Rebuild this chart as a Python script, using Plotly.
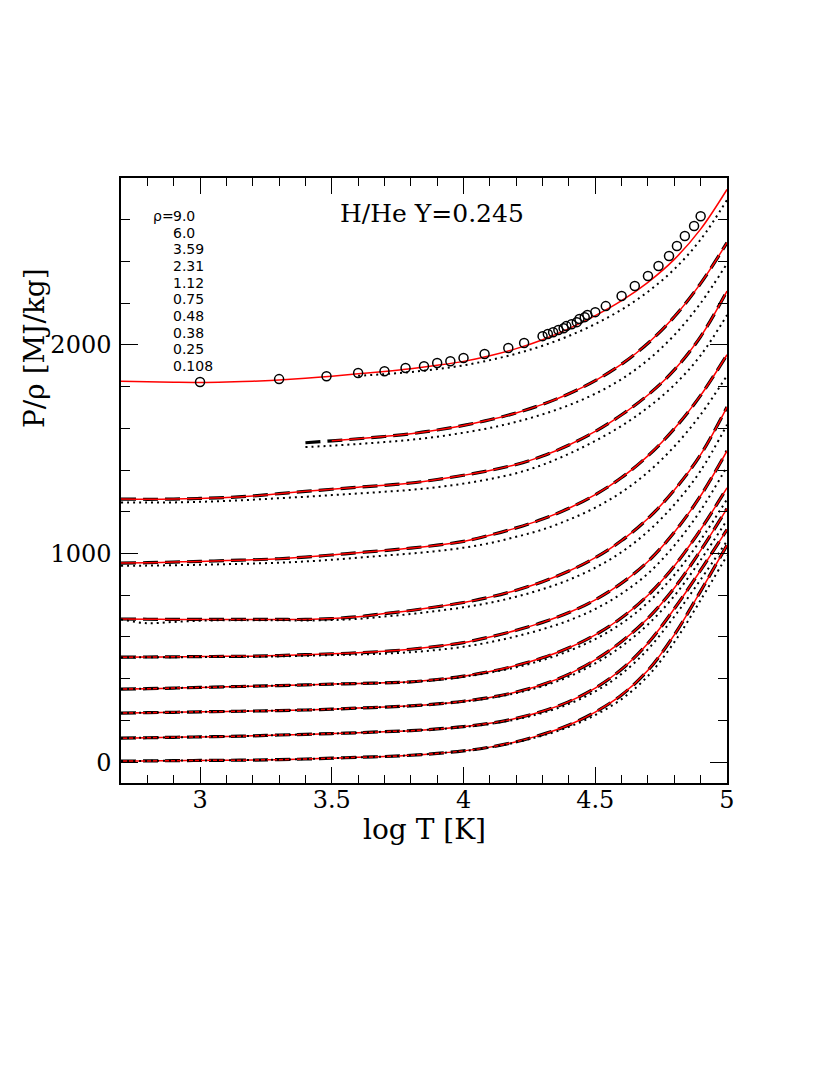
import plotly.graph_objects as go

# ---------------- data ----------------
logT = [2.7, 2.8, 2.9, 3.0, 3.1, 3.2, 3.3, 3.4, 3.5, 3.6, 3.7, 3.8,
        3.9, 4.0, 4.1, 4.2, 4.3, 4.4, 4.5, 4.6, 4.7, 4.8, 4.9, 5.0]

rho_labels = ["9.0", "6.0", "3.59", "2.31", "1.12", "0.75", "0.48", "0.38", "0.25", "0.108"]

# solid red model (rho = 9.0)
red_9 = [1826, 1823, 1821, 1820, 1822, 1826, 1832, 1840, 1850, 1862, 1873, 1886,
         1902, 1921, 1948, 1982, 2025, 2078, 2140, 2212, 2300, 2410, 2555, 2745]
dot_9 = [None, None, None, None, None, None, None, None, None, 1852, 1860, 1870,
         1884, 1902, 1927, 1958, 1996, 2043, 2100, 2169, 2255, 2363, 2505, 2695]

dash_6 = [None, None, None, None, None, None, None, 1531, 1540, 1550, 1561, 1574,
          1592, 1614, 1641, 1674, 1715, 1766, 1829, 1908, 2008, 2135, 2295, 2490]
red_6 = [None, None, None, None, None, None, None, None, 1540, 1550, 1561, 1574,
         1592, 1614, 1641, 1674, 1715, 1766, 1829, 1908, 2008, 2135, 2295, 2490]
dot_6 = [None, None, None, None, None, None, None, 1510, 1517, 1525, 1534, 1545,
         1560, 1579, 1602, 1631, 1667, 1711, 1766, 1836, 1928, 2047, 2200, 2390]

dash_359 = [1261, 1260, 1261, 1264, 1268, 1276, 1287, 1298, 1308, 1318, 1327, 1338,
            1355, 1375, 1398, 1427, 1467, 1520, 1585, 1665, 1760, 1880, 2040, 2258]
dot_359 = [1245, 1244, 1245, 1248, 1252, 1258, 1265, 1272, 1280, 1288, 1296, 1305,
           1318, 1335, 1357, 1385, 1425, 1478, 1540, 1612, 1700, 1808, 1950, 2143]

dash_231 = [954, 956, 959, 962, 966, 970, 975, 983, 993, 1004, 1014, 1026,
            1040, 1058, 1088, 1123, 1165, 1217, 1282, 1364, 1468, 1598, 1758, 1953]
dot_231 = [941, 942, 944, 946, 949, 952, 956, 962, 970, 980, 990, 1000,
           1012, 1028, 1050, 1080, 1115, 1162, 1220, 1294, 1390, 1513, 1666, 1853]

dash_112 = [686, 685, 684, 684, 684, 684, 684, 684, 688, 697, 712, 727,
            745, 765, 791, 824, 865, 916, 980, 1062, 1168, 1304, 1474, 1702]
dot_112 = [684, 666, 672, 678, 680, 680, 680, 679, 681, 687, 698, 710,
           725, 742, 764, 793, 829, 874, 932, 1007, 1106, 1234, 1397, 1617]

dash_075 = [503, 504, 505, 506, 507, 508, 511, 515, 519, 524, 531, 541,
            555, 573, 600, 632, 670, 717, 778, 858, 962, 1102, 1277, 1492]
dot_075 = [502, 503, 503, 504, 504, 505, 507, 510, 513, 516, 520, 527,
           538, 553, 575, 603, 637, 679, 734, 808, 904, 1038, 1207, 1417]

dash_048 = [350, 352, 355, 358, 361, 364, 367, 370, 374, 377, 380, 385,
            396, 412, 434, 463, 500, 548, 610, 692, 800, 940, 1115, 1315]
dot_048 = [350, 352, 355, 358, 361, 364, 367, 370, 374, 377, 380, 384,
           394, 409, 429, 455, 489, 533, 590, 665, 765, 897, 1065, 1260]

dash_038 = [235, 237, 239, 241, 243, 245, 247, 250, 254, 259, 264, 270,
            279, 292, 310, 336, 372, 422, 490, 578, 690, 835, 1015, 1215]
dot_038 = [235, 237, 239, 241, 243, 245, 247, 250, 254, 259, 264, 269,
           278, 290, 307, 331, 364, 410, 473, 555, 660, 797, 969, 1160]

dash_025 = [115, 117, 119, 121, 123, 126, 130, 133, 137, 141, 146, 151,
            159, 170, 186, 210, 244, 290, 355, 445, 570, 735, 920, 1115]
dot_025 = [115, 117, 119, 121, 123, 126, 130, 133, 137, 141, 146, 151,
           158, 168, 183, 205, 236, 279, 339, 423, 541, 698, 875, 1060]

dash_0108 = [5, 6, 7, 8, 9, 10, 12, 15, 19, 23, 27, 33,
             42, 54, 72, 98, 133, 178, 240, 322, 440, 610, 820, 1040]
dot_0108 = [5, 6, 7, 8, 9, 10, 12, 15, 19, 23, 27, 33,
            42, 53, 70, 95, 127, 169, 226, 302, 413, 575, 777, 990]

# open circles (rho = 9.0 reference points)
circ_T = [3.0, 3.3, 3.48, 3.6, 3.7, 3.78, 3.85, 3.9, 3.95, 4.0, 4.08, 4.17, 4.23,
          4.30, 4.32, 4.34, 4.36, 4.38, 4.39, 4.41, 4.43, 4.44, 4.46, 4.47,
          4.50, 4.54, 4.60, 4.65, 4.70, 4.74, 4.78, 4.81, 4.84, 4.875, 4.90]
circ_P = [1822, 1836, 1850, 1865, 1874, 1889, 1898, 1913, 1922, 1937, 1956, 1985, 2009,
          2042, 2052, 2061, 2071, 2080, 2090, 2099, 2109, 2124, 2133, 2143,
          2157, 2186, 2234, 2282, 2330, 2378, 2426, 2474, 2522, 2570, 2617]

x_tickvals = [3, 3.5, 4, 4.5, 5]
x_ticktext = ["3", "3.5", "4", "4.5", "5"]
y_tickvals = [0, 1000, 2000]
y_ticktext = ["0", "1000", "2000"]

title_text = "H/He Y=0.245"
x_title = "log T [K]"
y_title = "P/ρ [MJ/kg]"

# ---------------- figure ----------------
dashed_sets = [dash_6, dash_359, dash_231, dash_112, dash_075, dash_048, dash_038, dash_025, dash_0108]
red_sets = [red_9, red_6, dash_359, dash_231, dash_112, dash_075, dash_048, dash_038, dash_025, dash_0108]
dot_sets = [dot_9, dot_6, dot_359, dot_231, dot_112, dot_075, dot_048, dot_038, dot_025, dot_0108]

fig = go.Figure()

for ys in dashed_sets:
    fig.add_trace(go.Scatter(x=logT, y=ys, mode="lines", showlegend=False,
                             line=dict(color="black", width=3.2, dash="15px,7px", shape="spline", smoothing=1.0),
                             connectgaps=False, hoverinfo="skip"))
for ys in red_sets:
    fig.add_trace(go.Scatter(x=logT, y=ys, mode="lines", showlegend=False,
                             line=dict(color="#ff0000", width=1.5, shape="spline", smoothing=1.0),
                             connectgaps=False, hoverinfo="skip"))
for ys in dot_sets:
    fig.add_trace(go.Scatter(x=logT, y=ys, mode="lines", showlegend=False,
                             line=dict(color="black", width=2, dash="2px,4px", shape="spline", smoothing=1.0),
                             connectgaps=False, hoverinfo="skip"))

fig.add_trace(go.Scatter(x=circ_T, y=circ_P, mode="markers", showlegend=False,
                         marker=dict(symbol="circle-open", size=9, color="black",
                                     line=dict(width=1.5, color="black")),
                         hoverinfo="skip"))

# target plot-area box in window pixels
L, R, T, B = 121, 727, 178, 783
BODY = 8  # default page margin of the html body
W, H = 830 - 2 * BODY, 1075 - 2 * BODY


def px(xp):
    return (xp - L) / (R - L)


def py(yp):
    return (B - yp) / (B - T)


serif = "DejaVu Serif"
sans = "DejaVu Sans"

annotations = []
annotations.append(dict(text=title_text, x=px(432), y=py(213), xref="paper", yref="paper",
                        showarrow=False, xanchor="center", yanchor="middle",
                        font=dict(family=serif, size=25, color="black")))
annotations.append(dict(text=x_title, x=px(424), y=py(829), xref="paper", yref="paper",
                        showarrow=False, xanchor="center", yanchor="middle",
                        font=dict(family=serif, size=28, color="black")))
annotations.append(dict(text=y_title, x=px(34), y=py(348), xref="paper", yref="paper",
                        showarrow=False, xanchor="center", yanchor="middle", textangle=-90,
                        font=dict(family=serif, size=28, color="black")))

annotations.append(dict(text="ρ=", x=px(175), y=py(216), xref="paper", yref="paper",
                        showarrow=False, xanchor="right", yanchor="middle",
                        font=dict(family=sans, size=14, color="black"), borderpad=0))
for i, lab in enumerate(rho_labels):
    annotations.append(dict(text=lab, x=px(172), y=py(216 + i * 16.67), xref="paper", yref="paper",
                            showarrow=False, xanchor="left", yanchor="middle",
                            font=dict(family=sans, size=14, color="black"), borderpad=0))

fig.update_layout(
    width=W, height=H,
    margin=dict(l=L - BODY, r=(W + BODY) - R, t=T - BODY, b=(H + BODY) - B, pad=0),
    paper_bgcolor="white", plot_bgcolor="white",
    showlegend=False,
    annotations=annotations,
)

fig.update_xaxes(range=[2.7, 5.0], tickmode="array", tickvals=x_tickvals, ticktext=x_ticktext,
                 ticks="inside", ticklen=16, tickwidth=1.2, tickcolor="black",
                 minor=dict(dtick=0.1, tick0=2.7, ticks="inside", ticklen=8, tickwidth=1.2,
                            tickcolor="black", showgrid=False),
                 showline=True, linecolor="black", linewidth=1.5, mirror="allticks",
                 showgrid=False, zeroline=False,
                 tickfont=dict(family=serif, size=24, color="black"), ticklabelstandoff=-6)
fig.update_yaxes(range=[-100, 2800], tickmode="array", tickvals=y_tickvals, ticktext=y_ticktext,
                 ticks="inside", ticklen=17, tickwidth=1.2, tickcolor="black",
                 minor=dict(dtick=200, tick0=0, ticks="inside", ticklen=9, tickwidth=1.2,
                            tickcolor="black", showgrid=False),
                 showline=True, linecolor="black", linewidth=1.5, mirror="allticks",
                 showgrid=False, zeroline=False,
                 tickfont=dict(family=serif, size=24, color="black"), ticklabelstandoff=3)

fig.write_html("out.html")
